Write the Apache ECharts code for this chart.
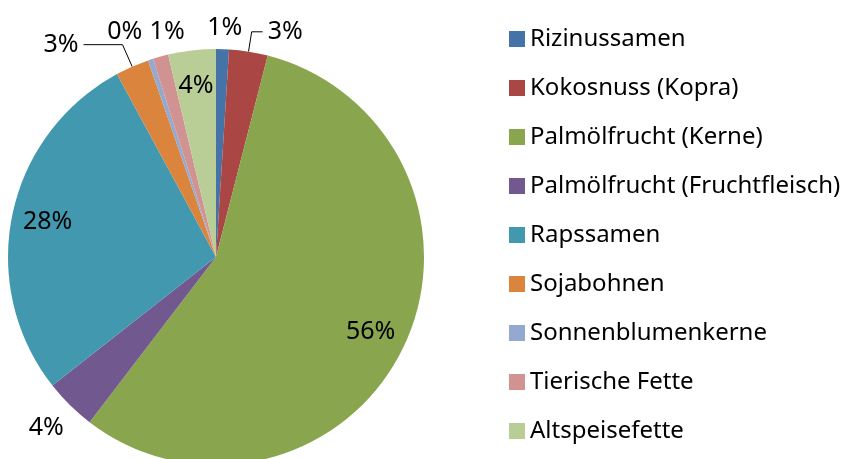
<!DOCTYPE html>
<html><head><meta charset="utf-8">
<script src="https://cdn.jsdelivr.net/npm/echarts@6/dist/echarts.min.js"></script>
<style>html,body{margin:0;padding:0;background:#fff}#c{width:846px;height:459px}</style>
</head><body><div id="c"></div>
<script>
const categories = ['Rizinussamen','Kokosnuss (Kopra)','Palmölfrucht (Kerne)','Palmölfrucht (Fruchtfleisch)','Rapssamen','Sojabohnen','Sonnenblumenkerne','Tierische Fette','Altspeisefette'];
const shares = [1.0, 3.0, 56.4, 4.0, 27.7, 2.6, 0.4, 1.2, 3.7];
const colors = ['#4572A7','#AA4643','#89A54E','#71588F','#4198AF','#DB843D','#93A9CF','#D19392','#B9CD96'];
// label placement styling (not data)
const labelPlacement = [
  {len:21, len2:-21, line:false},
  {len:20, len2:11, line:true},
  {inside:true},
  {len:32, len2:-21.5, line:false},
  {inside:true},
  {len:24, len2:39, line:true},
  {len:29, len2:-6, line:false},
  {len:25.5, len2:-36, line:false},
  {inside:true}
];
const FONT = 'Noto Sans';
const pct = p => Math.round(p.percent) + '%';
const CENTER = [216, 257], R = 208;

const mainData = categories.map((n, i) => {
  const lp = labelPlacement[i];
  const d = {name: n, value: shares[i], itemStyle: {color: colors[i]}};
  if (lp.inside) {
    d.label = {show: false};
    d.labelLine = {show: false};
  } else {
    d.label = {show: true, position: 'outside'};
    d.labelLine = {show: lp.line, length: lp.len, length2: lp.len2, smooth: false,
      lineStyle: {color: '#000', width: 1}};
  }
  return d;
});
const overlayData = categories.map((n, i) => ({
  name: n, value: shares[i],
  label: {show: !!labelPlacement[i].inside}
}));

const chart = echarts.init(document.getElementById('c'), null, {renderer: 'canvas'});
chart.setOption({
  backgroundColor: '#fff',
  animation: false,
  legend: {
    orient: 'vertical', left: 509, top: 27, padding: 0,
    data: categories,
    itemWidth: 16, itemHeight: 16, itemGap: 25,
    icon: 'rect',
    textStyle: {fontFamily: FONT, fontSize: 24, color: '#000'}
  },
  series: [
    {
      type: 'pie', center: CENTER, radius: R, startAngle: 90, clockwise: true,
      avoidLabelOverlap: false, silent: true,
      itemStyle: {borderWidth: 0},
      label: {formatter: pct, fontFamily: FONT, fontSize: 25, color: '#000', distanceToLabelLine: 5},
      emphasis: {disabled: true},
      data: mainData
    },
    {
      type: 'pie', center: CENTER, radius: [130, R], startAngle: 90, clockwise: true,
      avoidLabelOverlap: false, silent: true, legendHoverLink: false,
      itemStyle: {color: 'rgba(0,0,0,0)', borderWidth: 0},
      label: {position: 'inside', formatter: pct, fontFamily: FONT, fontSize: 25, color: '#000'},
      labelLine: {show: false},
      emphasis: {disabled: true},
      data: overlayData
    }
  ]
});
</script></body></html>
